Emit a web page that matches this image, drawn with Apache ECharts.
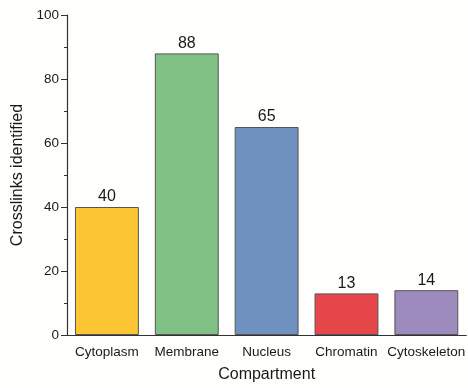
<!DOCTYPE html>
<html><head><meta charset="utf-8">
<script src="https://cdn.jsdelivr.net/npm/echarts@6/dist/echarts.min.js"></script>
<style>html,body{margin:0;padding:0;background:#fefefc}#c{width:468px;height:388px}</style>
</head><body><div id="c"></div>
<script>
const categories = ['Cytoplasm','Membrane','Nucleus','Chromatin','Cytoskeleton'];
const values = [40, 88, 65, 13, 14];
const colors = ['#fcc632','#82c185','#6f91c0','#e5474a','#9d8bbd'];
const chart = echarts.init(document.getElementById('c'));
chart.setOption({
  backgroundColor:'#fefefc',
  animation:false,
  grid:{left:67,right:-2,top:15,bottom:50,containLabel:false},
  xAxis:{type:'category',data:categories,
    name:'Compartment',nameLocation:'middle',nameGap:32,
    nameTextStyle:{fontFamily:'Liberation Sans',fontSize:16,color:'#1a1a1a'},
    axisLine:{lineStyle:{color:'#333',width:1.2}},
    axisTick:{show:false},
    axisLabel:{fontFamily:'Liberation Sans',fontSize:13.5,color:'#1a1a1a',margin:10,interval:0}},
  yAxis:{type:'value',min:0,max:100,interval:20,
    name:'Crosslinks identified',nameLocation:'middle',nameGap:38,
    nameTextStyle:{fontFamily:'Liberation Sans',fontSize:16,color:'#1a1a1a'},
    axisLine:{show:true,lineStyle:{color:'#333',width:1.2}},
    axisTick:{show:true,inside:false,length:6,lineStyle:{color:'#333'}},
    minorTick:{show:true,splitNumber:2,length:3,lineStyle:{color:'#333'}},
    splitLine:{show:false},
    axisLabel:{fontFamily:'Liberation Sans',fontSize:13.5,color:'#1a1a1a',margin:8}},
  series:[{type:'bar',barWidth:'80%',
    data:values.map((v,i)=>({value:v,itemStyle:{color:colors[i]}})),
    itemStyle:{borderColor:'#555',borderWidth:1},
    label:{show:true,position:'top',distance:2,fontFamily:'Liberation Sans',fontSize:16,color:'#1a1a1a'}}]
});
</script></body></html>
